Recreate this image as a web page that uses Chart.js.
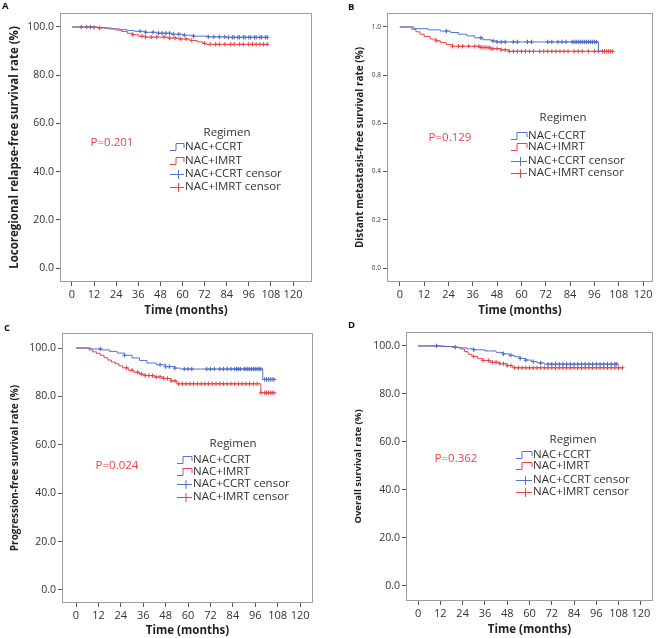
<!DOCTYPE html>
<html><head><meta charset="utf-8">
<script src="https://cdn.jsdelivr.net/npm/chart.js@4.4.1/dist/chart.umd.min.js"></script>
<style>
html,body{margin:0;padding:0;background:#fff;}
#wrap{position:relative;width:658px;height:638px;overflow:hidden;background:#fff}
.panel{position:absolute}
canvas{display:block}
</style></head><body><div id="wrap">
<div class="panel" style="left:0;top:0"><canvas id="cA" width="329" height="318"></canvas></div>
<div class="panel" style="left:329px;top:0"><canvas id="cB" width="329" height="318"></canvas></div>
<div class="panel" style="left:0;top:318px"><canvas id="cC" width="329" height="320"></canvas></div>
<div class="panel" style="left:329px;top:318px"><canvas id="cD" width="329" height="320"></canvas></div>
</div>
<script>
// ---------- DATA ----------
const SERIES = ['NAC+CCRT', 'NAC+IMRT', 'NAC+CCRT censor', 'NAC+IMRT censor'];
const X_TICKS = [0, 12, 24, 36, 48, 60, 72, 84, 96, 108, 120];
const Y_TICKS_PCT = [0, 20, 40, 60, 80, 100];
const Y_TICKS_FRAC = [0, 0.2, 0.4, 0.6, 0.8, 1.0];

// Panel A: locoregional relapse-free survival (%)
const A_ccrtTime = [0, 12, 18, 22, 26, 30, 34, 40, 46, 54, 60, 66, 74, 84, 106];
const A_ccrtSurv = [100, 99.8, 99.5, 99.2, 98.9, 98.5, 98.2, 97.8, 97.4, 97.0, 96.6, 96.2, 95.9, 95.7, 95.7];
const A_imrtTime = [0, 14, 20, 24, 27, 30, 33, 36, 40, 52, 58, 64, 68, 71, 73, 106];
const A_imrtSurv = [100, 99.6, 99.2, 98.7, 98.1, 97.4, 96.8, 96.2, 95.8, 95.4, 95.0, 94.4, 93.8, 93.2, 92.8, 92.8];
const A_ccrtCensor = [8, 12, 37, 40, 44, 47, 49, 51, 53, 55, 58, 61, 66, 74, 77, 80, 83, 85, 87, 88, 90, 91, 93, 94, 96, 97, 99, 100, 102, 103, 105, 106];
const A_imrtCensor = [5, 10, 15, 33, 38, 40, 43, 46, 50, 53, 56, 59, 62, 65, 72, 75, 78, 80, 83, 86, 88, 91, 93, 96, 98, 100, 102, 104, 106];

// Panel B: distant metastasis-free survival (fraction)
const B_ccrtTime = [0, 7, 14, 20, 25, 29, 33, 37, 41, 45, 48, 98, 100];
const B_ccrtSurv = [1, 0.993, 0.988, 0.983, 0.977, 0.97, 0.963, 0.955, 0.947, 0.942, 0.938, 0.9, 0.9];
const B_imrtTime = [0, 6, 8, 10, 12, 15, 18, 20, 23, 26, 40, 45, 50, 54, 105];
const B_imrtSurv = [1, 0.99, 0.98, 0.97, 0.96, 0.95, 0.943, 0.935, 0.927, 0.92, 0.915, 0.91, 0.905, 0.899, 0.899];
const B_ccrtCensor = [23, 40, 46, 48, 50, 52, 56, 58, 63, 65, 73, 75, 78, 80, 82, 85, 86, 87, 88, 89, 90, 91, 92, 93, 94, 95, 96, 97];
const B_imrtCensor = [18, 26, 29, 31, 34, 37, 39, 40, 41, 42, 43, 44, 45, 46, 48, 50, 52, 54, 56, 58, 60, 62, 64, 66, 69, 71, 73, 75, 77, 79, 81, 83, 86, 88, 90, 93, 96, 98, 100, 101, 102, 103, 104, 105];

// Panel C: progression-free survival (%)
const C_ccrtTime = [0, 8, 14, 18, 22, 26, 30, 34, 38, 43, 48, 53, 56, 100, 106];
const C_ccrtSurv = [100, 99.6, 99.2, 98.6, 97.9, 97.0, 95.9, 94.8, 93.8, 93.1, 92.3, 91.7, 91.3, 87.0, 87.0];
const C_imrtTime = [0, 7, 9, 11, 13, 15, 17, 19, 21, 23, 25, 28, 31, 34, 37, 42, 47, 51, 54, 99, 106];
const C_imrtSurv = [100, 99.2, 98.4, 97.8, 97.0, 96.0, 95.0, 94.2, 93.5, 92.6, 91.8, 90.8, 90.0, 89.2, 88.6, 88.0, 87.4, 86.4, 85.2, 81.5, 81.5];
const C_ccrtCensor = [13, 26, 45, 48, 50, 53, 58, 60, 62, 70, 72, 74, 77, 79, 81, 83, 85, 86, 87, 88, 90, 91, 92, 93, 94, 95, 96, 97, 98, 99, 101, 102, 103, 104, 105, 106];
const C_imrtCensor = [27, 30, 33, 35, 37, 39, 41, 43, 45, 47, 49, 51, 53, 55, 57, 59, 61, 63, 65, 67, 69, 71, 73, 75, 77, 79, 81, 83, 85, 87, 89, 91, 93, 95, 97, 99, 101, 102, 103, 104, 105, 106];

// Panel D: overall survival (%)
const D_ccrtTime = [0, 12, 18, 22, 26, 30, 36, 42, 46, 49, 52, 55, 58, 61, 64, 68, 107];
const D_ccrtSurv = [100, 99.8, 99.5, 99.2, 98.8, 98.4, 97.9, 97.3, 96.7, 96.1, 95.5, 94.8, 94.1, 93.5, 92.9, 92.4, 92.4];
const D_imrtTime = [0, 14, 20, 23, 25, 27, 29, 32, 35, 39, 44, 48, 51, 110];
const D_imrtSurv = [100, 99.7, 99.3, 98.7, 97.6, 96.5, 95.6, 94.7, 93.9, 93.2, 92.6, 91.8, 90.9, 90.9];
const D_ccrtCensor = [10, 20, 30, 46, 50, 55, 58, 62, 66, 70, 72, 74, 76, 78, 80, 82, 84, 86, 88, 90, 92, 94, 96, 98, 100, 102, 104, 106, 107];
const D_imrtCensor = [30, 35, 38, 40, 42, 44, 46, 48, 50, 52, 54, 56, 58, 60, 62, 64, 66, 68, 70, 72, 74, 76, 78, 80, 82, 84, 86, 88, 90, 92, 94, 96, 98, 100, 102, 104, 106, 108, 110];

const P_VALUES = ['P=0.201', 'P=0.129', 'P=0.024', 'P=0.362'];
const Y_TITLES = ['Locoregional relapse-free survival rate (%)', 'Distant metastasis-free survival rate (%)', 'Progression-free survival rate (%)', 'Overall survival rate (%)'];
const X_TITLE = 'Time (months)';
const PANEL_LETTERS = ['A', 'B', 'C', 'D'];

// ---------- STYLE ----------
const FONT = '"Open Sans", "DejaVu Sans", sans-serif';
const BLUE = '#5573cf';
const BLUE_DARK = '#3f5fc4';
const RED = '#e8434b';

function curve(times, surv) { return times.map((t, i) => ({x: t, y: surv[i]})); }
function stepAt(times, surv, t) { let v = surv[0]; for (let i = 0; i < times.length; i++) { if (times[i] <= t) v = surv[i]; else break; } return v; }
function censorPts(times, surv, cens) { return cens.map(t => ({x: t, y: stepAt(times, surv, t)})); }

const extras = {
  id: 'extras',
  beforeDatasetsDraw(chart, args, o) {
    const ctx = chart.ctx, a = chart.chartArea;
    ctx.save();
    ctx.strokeStyle = '#9e9e9e'; ctx.lineWidth = 1;
    ctx.strokeRect(Math.round(a.left) + 0.5, Math.round(a.top) + 0.5, Math.round(a.width) - 1, Math.round(a.height) - 1);
    ctx.restore();
  },
  afterDraw(chart, args, o) {
    const ctx = chart.ctx; const ds = chart.data.datasets;
    ctx.save();
    ctx.font = 'bold 9.5px ' + FONT; ctx.fillStyle = '#111'; ctx.textAlign = 'left'; ctx.textBaseline = 'middle';
    ctx.fillText(o.letter, o.letterX, o.letterY);
    ctx.font = '11.5px ' + FONT; ctx.fillStyle = RED; ctx.textAlign = 'center';
    ctx.fillText(o.p, o.pX, o.pY);
    const L = o.legend;
    ctx.font = '11.5px ' + FONT; ctx.fillStyle = '#333'; ctx.textAlign = 'center';
    ctx.fillText('Regimen', L.cx, L.titleY);
    ctx.textAlign = 'left';
    ds.forEach((d, i) => {
      const y = L.rows[i]; const x0 = L.iconX, x1 = L.textX - 1;
      const col = i % 2 === 0 ? BLUE : RED;
      ctx.strokeStyle = col; ctx.lineWidth = 1;
      ctx.beginPath();
      if (i < 2) {
        ctx.moveTo(x0, y + 3.5); ctx.lineTo(x0 + 6, y + 3.5); ctx.lineTo(x0 + 6, y - 3.5); ctx.lineTo(x1, y - 3.5); ctx.lineTo(x1, y + 1);
      } else {
        ctx.moveTo(x0, y + 0.5); ctx.lineTo(x1, y + 0.5);
        const cx = (x0 + x1) / 2 + 1;
        ctx.moveTo(cx + 0.5, y - 4); ctx.lineTo(cx + 0.5, y + 5);
      }
      ctx.stroke();
      ctx.fillStyle = '#333';
      ctx.fillText(d.label, L.textX, y);
    });
    ctx.restore();
  }
};

function makeChart(id, cfg) {
  const fmtY = v => Number(v).toFixed(1);
  const datasets = [
    {type: 'line', label: SERIES[0], data: curve(cfg.ct, cfg.cs), borderColor: BLUE, borderWidth: 1, stepped: true, pointRadius: 0, fill: false},
    {type: 'line', label: SERIES[1], data: curve(cfg.it, cfg.is), borderColor: RED, borderWidth: 1, stepped: true, pointRadius: 0, fill: false},
    {type: 'scatter', label: SERIES[2], data: censorPts(cfg.ct, cfg.cs, cfg.cc), pointStyle: 'cross', pointRadius: 2.2, borderColor: BLUE_DARK, borderWidth: 1, showLine: false},
    {type: 'scatter', label: SERIES[3], data: censorPts(cfg.it, cfg.is, cfg.ic), pointStyle: 'cross', pointRadius: 2.2, borderColor: RED, borderWidth: 1, showLine: false}
  ];
  return new Chart(document.getElementById(id), {
    data: {datasets},
    options: {
      responsive: false, animation: false, events: [],
      layout: {padding: {top: cfg.padTop, right: cfg.padRight, left: 0, bottom: 0}},
      plugins: {legend: {display: false}, tooltip: {enabled: false}, extras: cfg.extras},
      scales: {
        x: {
          type: 'linear', min: cfg.xMin, max: cfg.xMax,
          afterBuildTicks: s => { s.ticks = X_TICKS.map(v => ({value: v})); },
          afterFit: s => { s.height = cfg.xH; },
          grid: {display: true, drawOnChartArea: false, drawTicks: true, tickLength: 4, color: '#555', lineWidth: 1},
          border: {display: false},
          ticks: {font: {family: FONT, size: 11}, color: '#333', padding: 2, maxRotation: 0, autoSkip: false},
          title: {display: true, text: X_TITLE, font: {family: FONT, size: 11.5, weight: 'bold'}, color: '#222', padding: {top: 0, bottom: cfg.xTitlePad}}
        },
        y: {
          type: 'linear', min: cfg.yMin, max: cfg.yMax,
          afterBuildTicks: s => { s.ticks = cfg.yTicks.map(v => ({value: v})); },
          afterFit: s => { s.width = cfg.yW; },
          grid: {display: true, drawOnChartArea: false, drawTicks: true, tickLength: 4, color: '#555', lineWidth: 1},
          border: {display: false},
          ticks: {font: {family: FONT, size: cfg.yTickSize}, color: '#333', padding: 2, callback: fmtY},
          title: {display: true, text: cfg.yTitle, font: {family: FONT, size: cfg.yTitleSize, weight: 'bold'}, color: '#222', padding: {top: cfg.yTitlePad, bottom: 0}}
        }
      }
    },
    plugins: [extras]
  });
}

makeChart('cA', {
  ct: A_ccrtTime, cs: A_ccrtSurv, it: A_imrtTime, is: A_imrtSurv, cc: A_ccrtCensor, ic: A_imrtCensor,
  xMin: -6.5, xMax: 130.3, yMin: -5.8, yMax: 105.8, yTicks: Y_TICKS_PCT,
  padTop: 13, padRight: 17, xH: 36, yW: 60, xTitlePad: 0, yTitlePad: 8, yTickSize: 10.5, yTitleSize: 11.5, yTitle: Y_TITLES[0],
  extras: {letter: PANEL_LETTERS[0], letterX: 2, letterY: 6, p: P_VALUES[0], pX: 112, pY: 143,
    legend: {cx: 227, titleY: 133, rows: [147, 161, 174, 187], iconX: 170, textX: 185}}
});
makeChart('cB', {
  ct: B_ccrtTime, cs: B_ccrtSurv, it: B_imrtTime, is: B_imrtSurv, cc: B_ccrtCensor, ic: B_imrtCensor,
  xMin: -6.3, xMax: 124.9, yMin: -0.058, yMax: 1.058, yTicks: Y_TICKS_FRAC,
  padTop: 13, padRight: 2, xH: 36, yW: 58, xTitlePad: 0, yTitlePad: 25, yTickSize: 6.5, yTitleSize: 10, yTitle: Y_TITLES[1],
  extras: {letter: PANEL_LETTERS[1], letterX: 19, letterY: 7, p: P_VALUES[1], pX: 121, pY: 138,
    legend: {cx: 234, titleY: 118, rows: [136, 147, 161, 173], iconX: 182, textX: 199}}
});
makeChart('cC', {
  ct: C_ccrtTime, cs: C_ccrtSurv, it: C_imrtTime, is: C_imrtSurv, cc: C_ccrtCensor, ic: C_imrtCensor,
  xMin: -7.5, xMax: 126.9, yMin: -5.4, yMax: 106.2, yTicks: Y_TICKS_PCT,
  padTop: 15, padRight: 16, xH: 35, yW: 62, xTitlePad: 0, yTitlePad: 9, yTickSize: 10.5, yTitleSize: 10, yTitle: Y_TITLES[2],
  extras: {letter: PANEL_LETTERS[2], letterX: 4, letterY: 10, p: P_VALUES[2], pX: 117, pY: 148,
    legend: {cx: 233, titleY: 126, rows: [142, 154, 166, 179], iconX: 177, textX: 193}}
});
makeChart('cD', {
  ct: D_ccrtTime, cs: D_ccrtSurv, it: D_imrtTime, is: D_imrtSurv, cc: D_ccrtCensor, ic: D_imrtCensor,
  xMin: -6.5, xMax: 126.5, yMin: -6.25, yMax: 105.8, yTicks: Y_TICKS_PCT,
  padTop: 14, padRight: 5, xH: 37, yW: 77, xTitlePad: 1, yTitlePad: 24, yTickSize: 10.5, yTitleSize: 9.5, yTitle: Y_TITLES[3],
  extras: {letter: PANEL_LETTERS[3], letterX: 19, letterY: 7, p: P_VALUES[3], pX: 127, pY: 141,
    legend: {cx: 244, titleY: 122, rows: [137, 148, 162, 174], iconX: 187, textX: 204}}
});
</script>
</body></html>
